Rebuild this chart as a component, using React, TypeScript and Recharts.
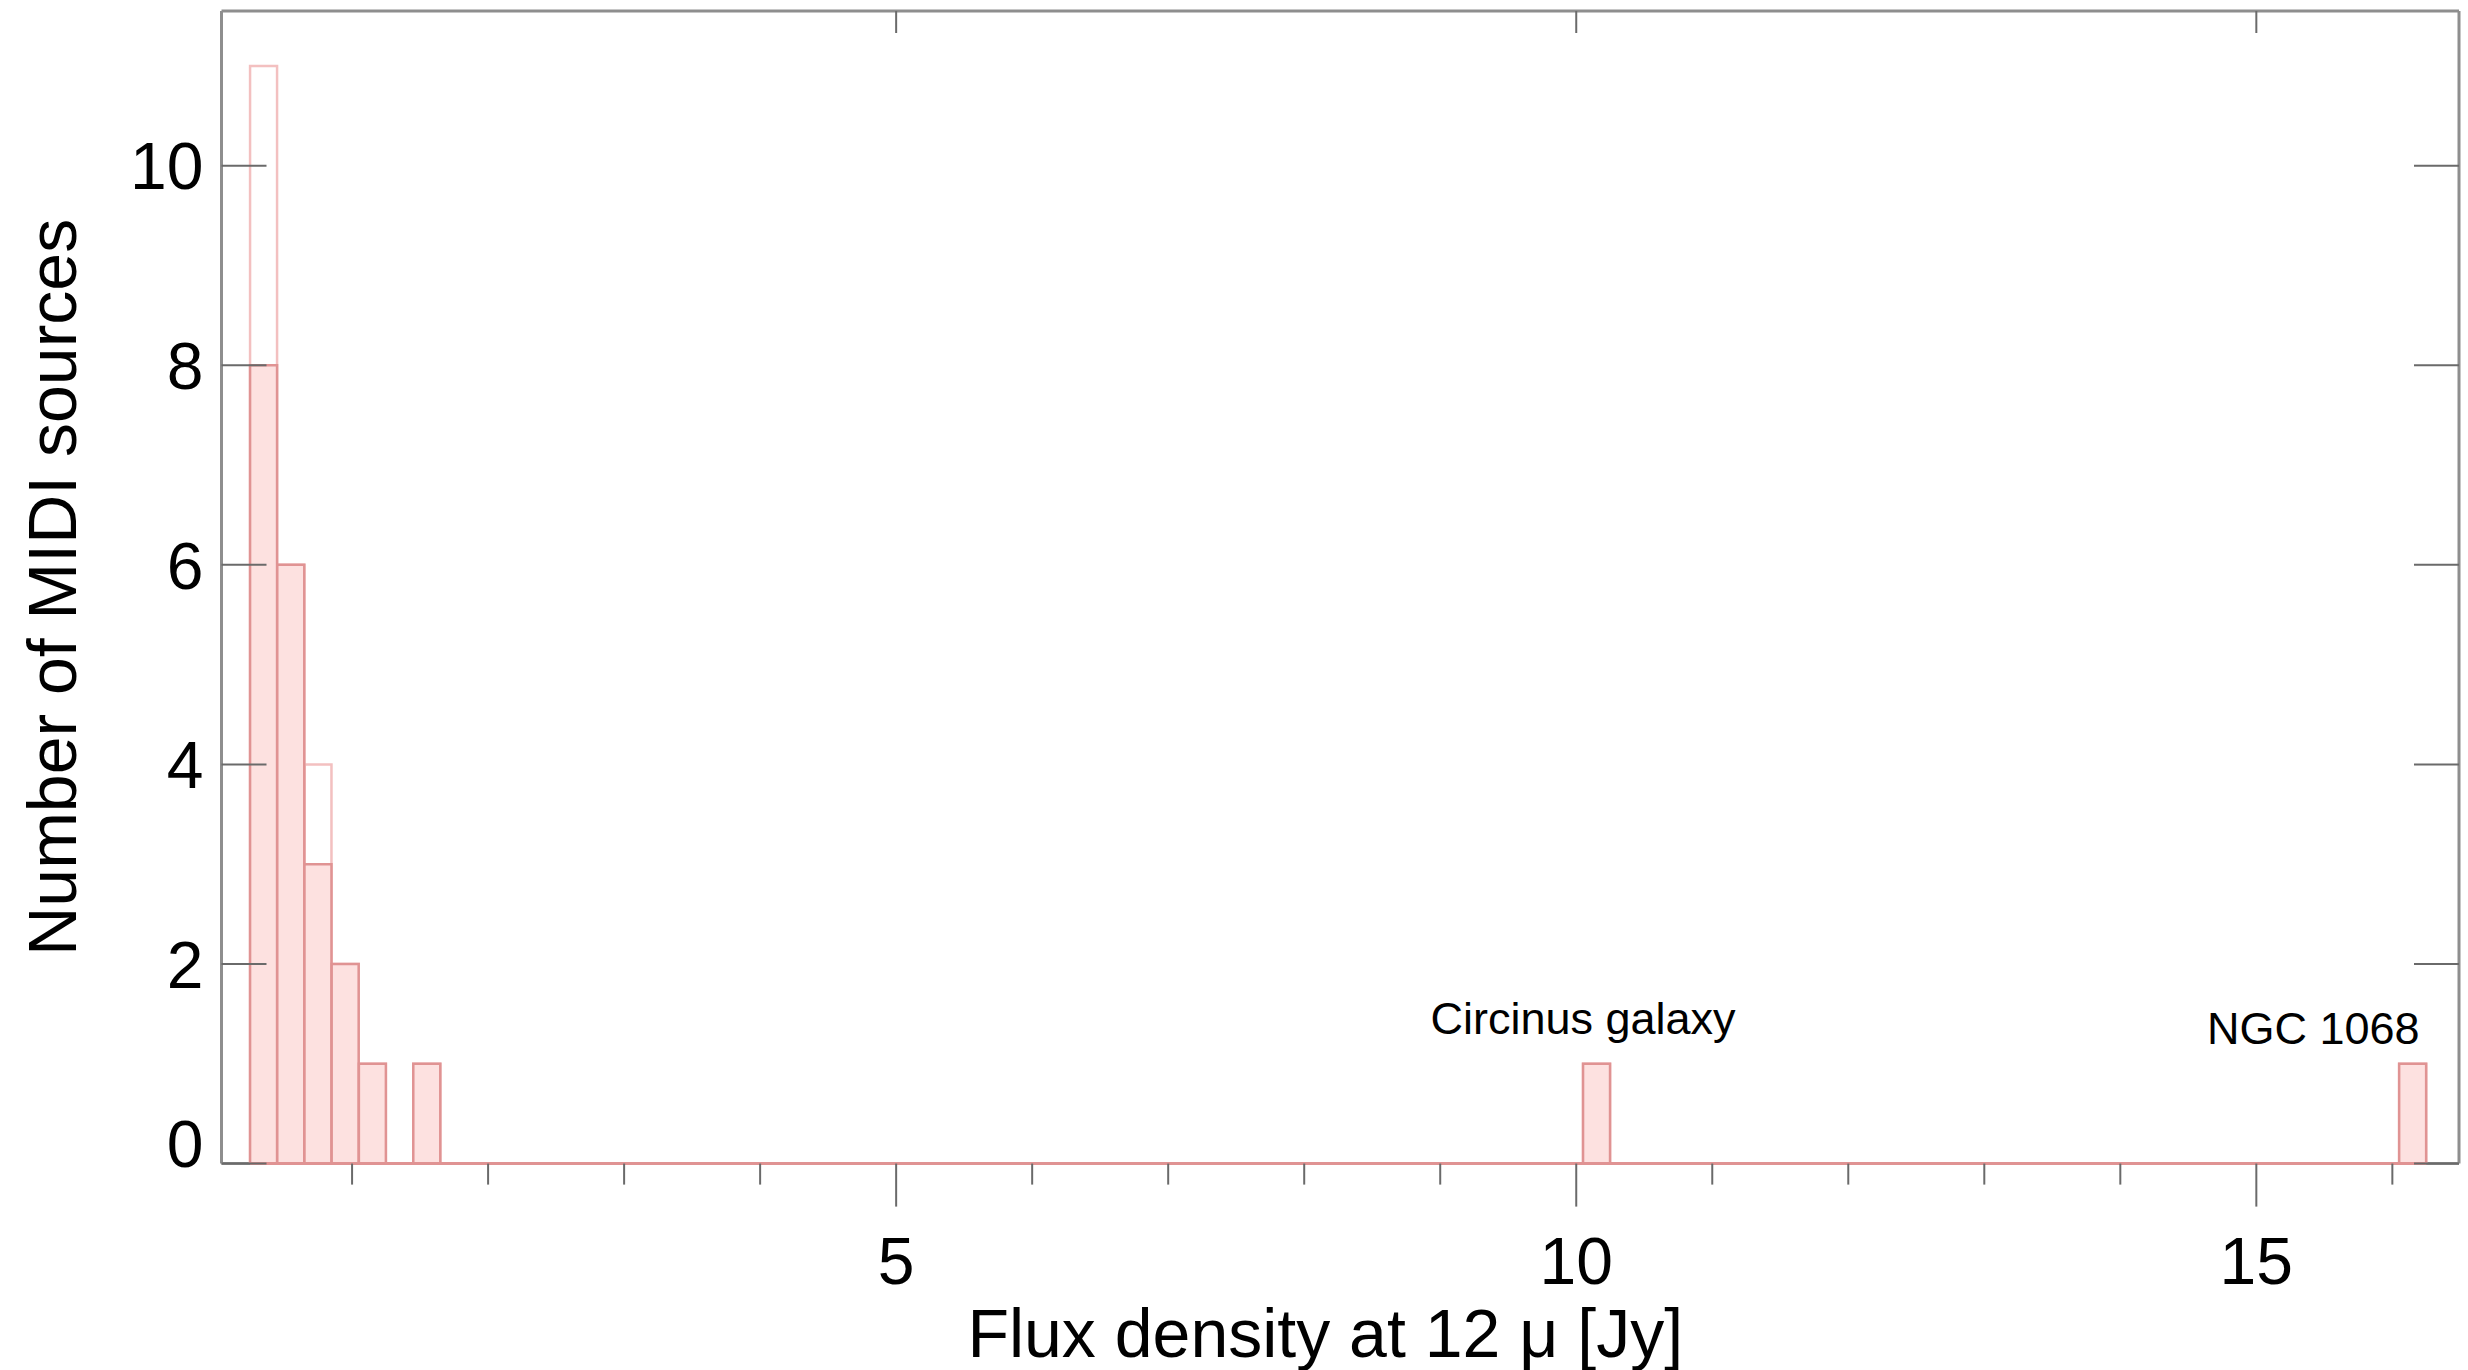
import React from 'react';
import { BarChart, Bar, XAxis, YAxis, ReferenceLine, ReferenceDot, Label } from 'recharts';

// Histogram of 12 micron flux densities, bins 0.2 Jy wide (only non-empty bins listed)
const binCenters = [0.35, 0.55, 0.75, 0.95, 1.15, 1.55, 10.15, 16.15];
const allCounts = [11, 6, 4, 2, 1, 1, 1, 1];
const subsetCounts = [8, 6, 3, 2, 1, 1, 1, 1];
// full extent of the histogram (outer bin edges)
const histStart = 0.25;
const histEnd = 16.25;

const xDomain = [0.04, 16.49];
const yDomain = [0, 11.55];
const xMajorTicks = [5, 10, 15];
const xAllTicks = [1, 2, 3, 4, 5, 6, 7, 8, 9, 10, 11, 12, 13, 14, 15, 16];
const yTicks = [0, 2, 4, 6, 8, 10];

const noteLabels = ['Circinus galaxy', 'NGC 1068'];
const noteX = [10.05, 16.2];
const noteY = [1.3, 1.2];

const rows = binCenters.map((flux, i) => ({
  flux,
  all: allCounts[i],
  subset: subsetCounts[i],
}));

const FONT = '"Liberation Sans", Arial, Helvetica, sans-serif';
const AXIS = '#8e8e8e';
const TICK = '#6a6a6a';
const FILL = '#fde1e0';
const EDGE = '#e09393';
const EDGE_LIGHT = '#f3c0c0';

const BottomTick = (props: any) => {
  const { x, y, payload } = props;
  const major = xMajorTicks.includes(payload.value);
  return (
    <g>
      <line x1={x} x2={x} y1={y} y2={y + (major ? 43 : 21)} stroke={TICK} strokeWidth={2} />
      {major && (
        <text x={x} y={y + 120} textAnchor="middle" fontSize={66} fontFamily={FONT} fill="#000">
          {payload.value}
        </text>
      )}
    </g>
  );
};

const TopTick = (props: any) => {
  const { x, y } = props;
  return <line x1={x} x2={x} y1={y} y2={y + 22} stroke={TICK} strokeWidth={2} />;
};

const LeftTick = (props: any) => {
  const { x, y, payload } = props;
  const lift = payload.value === 0 ? -20 : 0;
  return (
    <g>
      <line x1={x} x2={x + 45} y1={y} y2={y} stroke={TICK} strokeWidth={2} />
      <text x={x - 18} y={y + lift} dy="0.36em" textAnchor="end" fontSize={66} fontFamily={FONT} fill="#000">
        {payload.value}
      </text>
    </g>
  );
};

const RightTick = (props: any) => {
  const { x, y } = props;
  return <line x1={x} x2={x - 45} y1={y} y2={y} stroke={TICK} strokeWidth={2} />;
};

const yTitle = (p: any) => {
  const vb = p.viewBox || { x: 21.5, y: 10, width: 200, height: 1153.6 };
  const cx = vb.x + 54;
  const cy = vb.y + vb.height / 2;
  return (
    <text
      transform={`translate(${cx} ${cy}) rotate(-90)`}
      textAnchor="middle"
      fontSize={68}
      fontFamily={FONT}
      fill="#000"
    >
      Number of MIDI sources
    </text>
  );
};

const xTitle = (p: any) => {
  const vb = p.viewBox || { x: 221.5, y: 1163.6, width: 2238.5, height: 206.4 };
  return (
    <text
      x={vb.x + vb.width / 2 - 15}
      y={vb.y + 193}
      textAnchor="middle"
      fontSize={68}
      fontFamily={FONT}
      fill="#000"
    >
      Flux density at 12 μ [Jy]
    </text>
  );
};

const noteShape = (i: number, anchor: 'middle' | 'end') => (p: any) => (
  <text x={p.cx} y={p.cy} textAnchor={anchor} fontSize={45} fontFamily={FONT} fill="#000">
    {noteLabels[i]}
  </text>
);

export default function App() {
  return (
    <div style={{ position: 'absolute', left: 0, top: 0, width: 2468, height: 1370, background: '#fff' }}>
      <BarChart
        width={2468}
        height={1370}
        data={rows}
        margin={{ top: 10, right: 8, bottom: 0, left: 21.5 }}
        barCategoryGap={0}
        barGap={0}
      >
        <XAxis
          xAxisId="x"
          dataKey="flux"
          type="number"
          domain={xDomain}
          allowDataOverflow
          ticks={xAllTicks}
          interval={0}
          tick={BottomTick}
          tickLine={false}
          tickSize={0}
          tickMargin={0}
          axisLine={{ stroke: AXIS, strokeWidth: 3 }}
          height={206.4}
          zIndex={100}
        >
          <Label content={xTitle} />
        </XAxis>
        <XAxis
          xAxisId="top"
          orientation="top"
          dataKey="flux"
          type="number"
          domain={xDomain}
          allowDataOverflow
          ticks={xMajorTicks}
          interval={0}
          tick={TopTick}
          tickLine={false}
          tickSize={0}
          tickMargin={0}
          axisLine={{ stroke: AXIS, strokeWidth: 3 }}
          height={1}
          zIndex={100}
        />
        <XAxis
          xAxisId="all"
          orientation="top"
          dataKey="flux"
          type="number"
          domain={xDomain}
          allowDataOverflow
          hide
          height={0}
        />
        <YAxis
          yAxisId="left"
          type="number"
          domain={yDomain}
          allowDataOverflow
          ticks={yTicks}
          interval={0}
          tick={LeftTick}
          tickLine={false}
          tickSize={0}
          tickMargin={0}
          axisLine={{ stroke: AXIS, strokeWidth: 3 }}
          width={200}
          zIndex={100}
        >
          <Label content={yTitle} />
        </YAxis>
        <YAxis
          yAxisId="right"
          orientation="right"
          type="number"
          domain={yDomain}
          allowDataOverflow
          ticks={yTicks}
          interval={0}
          tick={RightTick}
          tickLine={false}
          tickSize={0}
          tickMargin={0}
          axisLine={{ stroke: AXIS, strokeWidth: 3 }}
          width={1}
          zIndex={100}
        />
        <Bar
          xAxisId="all"
          yAxisId="left"
          dataKey="all"
          fill="none"
          stroke={EDGE_LIGHT}
          strokeWidth={2.5}
          isAnimationActive={false}
        />
        <Bar
          xAxisId="x"
          yAxisId="left"
          dataKey="subset"
          fill={FILL}
          stroke={EDGE}
          strokeWidth={2.5}
          isAnimationActive={false}
        />
        <ReferenceLine
          xAxisId="x"
          yAxisId="left"
          segment={[
            { x: histStart, y: 0 },
            { x: histEnd, y: 0 },
          ]}
          stroke={EDGE}
          strokeWidth={3}
          zIndex={700}
        />
        <ReferenceDot xAxisId="x" yAxisId="left" x={noteX[0]} y={noteY[0]} r={0} shape={noteShape(0, 'middle')} />
        <ReferenceDot xAxisId="x" yAxisId="left" x={noteX[1]} y={noteY[1]} r={0} shape={noteShape(1, 'end')} />
      </BarChart>
    </div>
  );
}
